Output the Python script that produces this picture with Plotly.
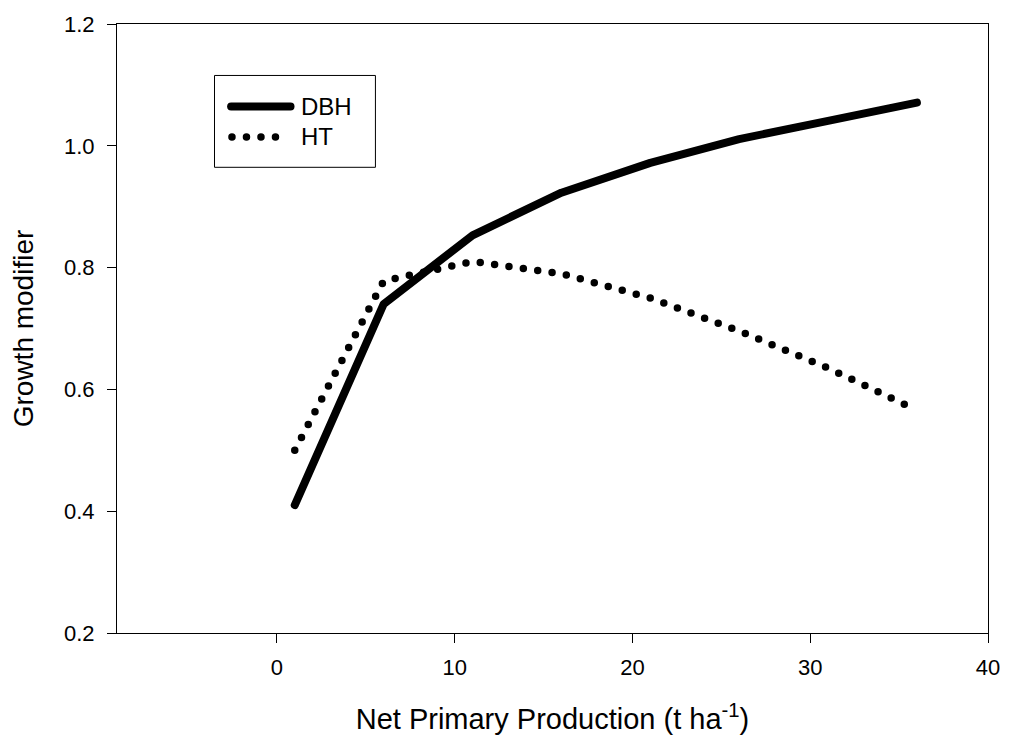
import plotly.graph_objects as go

# Data
npp = [1, 6, 11, 16, 21, 26, 31, 36]
dbh = [0.41, 0.74, 0.853, 0.923, 0.972, 1.011, 1.041, 1.071]
ht = [0.50, 0.778, 0.81, 0.79, 0.75, 0.696, 0.635, 0.566]

x_ticks = [0, 10, 20, 30, 40]
y_ticks = [0.2, 0.4, 0.6, 0.8, 1.0, 1.2]
series_names = ["DBH", "HT"]

FONT = "Liberation Sans, Arial, sans-serif"

fig = go.Figure()
fig.add_trace(go.Scatter(x=npp, y=dbh, mode="lines", name=series_names[0],
                         line=dict(color="black", width=8), showlegend=False))
fig.add_trace(go.Scatter(x=npp, y=ht, mode="lines", name=series_names[1],
                         line=dict(color="black", width=7.5, dash="0px,14.5px"),
                         showlegend=False))

# Manual legend (box, samples, labels) in paper coordinates
fig.add_shape(type="rect", xref="paper", yref="paper", x0=0.1124, x1=0.2967,
              y0=0.7647, y1=0.9155, line=dict(color="black", width=1),
              fillcolor="white", layer="above")
fig.add_shape(type="line", xref="paper", yref="paper", x0=0.1310, x1=0.1992,
              y0=0.8644, y1=0.8644, line=dict(color="black", width=8), layer="above")
fig.add_shape(type="line", xref="paper", yref="paper", x0=0.1320, x1=0.1862,
              y0=0.8145, y1=0.8145, line=dict(color="black", width=7.5, dash="0px,14.5px"),
              layer="above")
fig.add_annotation(x=0.2095, y=0.8644, xref="paper", yref="paper", text=series_names[0],
                   showarrow=False, xanchor="left", yanchor="middle",
                   font=dict(family=FONT, size=24, color="black"))
fig.add_annotation(x=0.2095, y=0.8145, xref="paper", yref="paper", text=series_names[1],
                   showarrow=False, xanchor="left", yanchor="middle",
                   font=dict(family=FONT, size=24, color="black"))

fig.update_layout(
    width=1012, height=743,
    margin=dict(l=117, r=19, t=21, b=110),
    paper_bgcolor="white", plot_bgcolor="white",
    font=dict(family=FONT, color="black"),
    showlegend=False,
)
fig.update_xaxes(
    range=[-9, 40], tickvals=x_ticks, ticks="outside", ticklen=9, tickwidth=1,
    tickcolor="black", showline=True, linecolor="black", linewidth=1, mirror=True,
    showgrid=False, zeroline=False, tickfont=dict(size=22, family=FONT),
    ticklabelstandoff=6,
    title=dict(text="Net Primary Production (t ha<sup>-1</sup>)",
               font=dict(size=29, family=FONT), standoff=29),
)
fig.update_yaxes(
    range=[0.2, 1.2], tickvals=y_ticks, tickformat=".1f", ticks="outside", ticklen=9,
    tickwidth=1, tickcolor="black", showline=True, linecolor="black", linewidth=1,
    mirror=True, showgrid=False, zeroline=False, tickfont=dict(size=22, family=FONT),
    ticklabelstandoff=8,
    title=dict(text="Growth modifier", font=dict(size=28, family=FONT), standoff=22),
)

post = """
var gd = document.getElementById('{plot_id}');
function roundCaps(){
  gd.querySelectorAll('path.js-line, .shapelayer path').forEach(function(p){
    p.style.strokeLinecap = 'round';
    p.style.strokeLinejoin = 'round';
  });
}
roundCaps();
gd.on('plotly_afterplot', roundCaps);
"""
fig.write_html("out.html", post_script=post)
